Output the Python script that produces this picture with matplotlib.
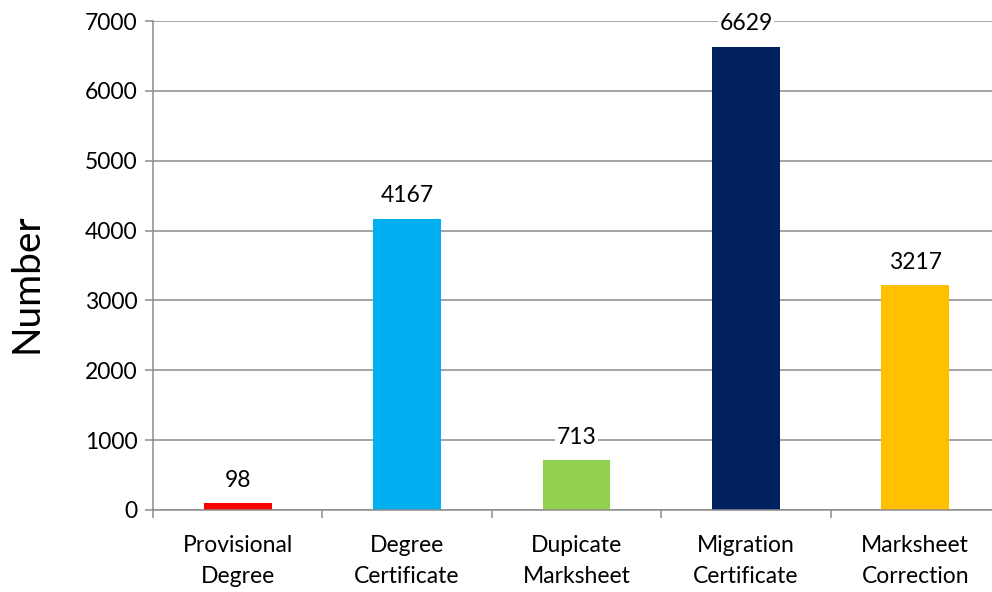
import matplotlib.pyplot as plt
import numpy as np

categories = ["Provisional\nDegree", "Degree\nCertificate", "Dupicate\nMarksheet",
              "Migration\nCertificate", "Marksheet\nCorrection"]
values = [98, 4167, 713, 6629, 3217]
colors = ["#FF0000", "#00B0F0", "#92D050", "#002060", "#FFC000"]
yticks = [0, 1000, 2000, 3000, 4000, 5000, 6000, 7000]

plt.rcParams['font.family'] = ['Lato', 'DejaVu Sans']

fig = plt.figure(figsize=(9.92, 5.92), dpi=100)
# plot area runs a little past the right edge, as in the original
ax = fig.add_axes([153 / 992, 1 - 510 / 592, (1000 - 153) / 992, (510 - 21) / 592])

x = np.arange(len(categories))
ax.bar(x, values, width=0.4, color=colors, zorder=2)

for xi, v in zip(x, values):
    ax.annotate(str(v), (xi, v), xytext=(0, 9), textcoords="offset points",
                ha="center", va="bottom", fontsize=16.5,
                bbox=dict(facecolor="white", edgecolor="none", pad=1), zorder=3)

grid_c = "#8c8c8c"
ax.set_ylim(0, 7000)
ax.set_yticks(yticks)
ax.set_xlim(-0.5, len(categories) - 0.5)
ax.set_xticks(x)
ax.set_xticklabels(categories, fontsize=16.5, linespacing=1.6)
ax.set_xticks(np.arange(-0.5, len(categories), 1), minor=True)
ax.tick_params(axis="x", which="major", length=0, pad=18)
ax.tick_params(axis="x", which="minor", length=6, color=grid_c, width=1.1)
ax.tick_params(axis="y", length=6, color=grid_c, width=1.1, labelsize=16.5, pad=5)
ax.yaxis.grid(True, color=grid_c, linewidth=1.1, zorder=0)
ax.set_axisbelow(True)
for s in ["top", "right"]:
    ax.spines[s].set_visible(False)
for s in ["left", "bottom"]:
    ax.spines[s].set_color(grid_c)
    ax.spines[s].set_linewidth(1.1)

ax.set_ylabel("Number", fontsize=28, va="center")
ax.yaxis.set_label_coords(-0.149, 0.464)

fig.savefig("out.png", dpi=100)
